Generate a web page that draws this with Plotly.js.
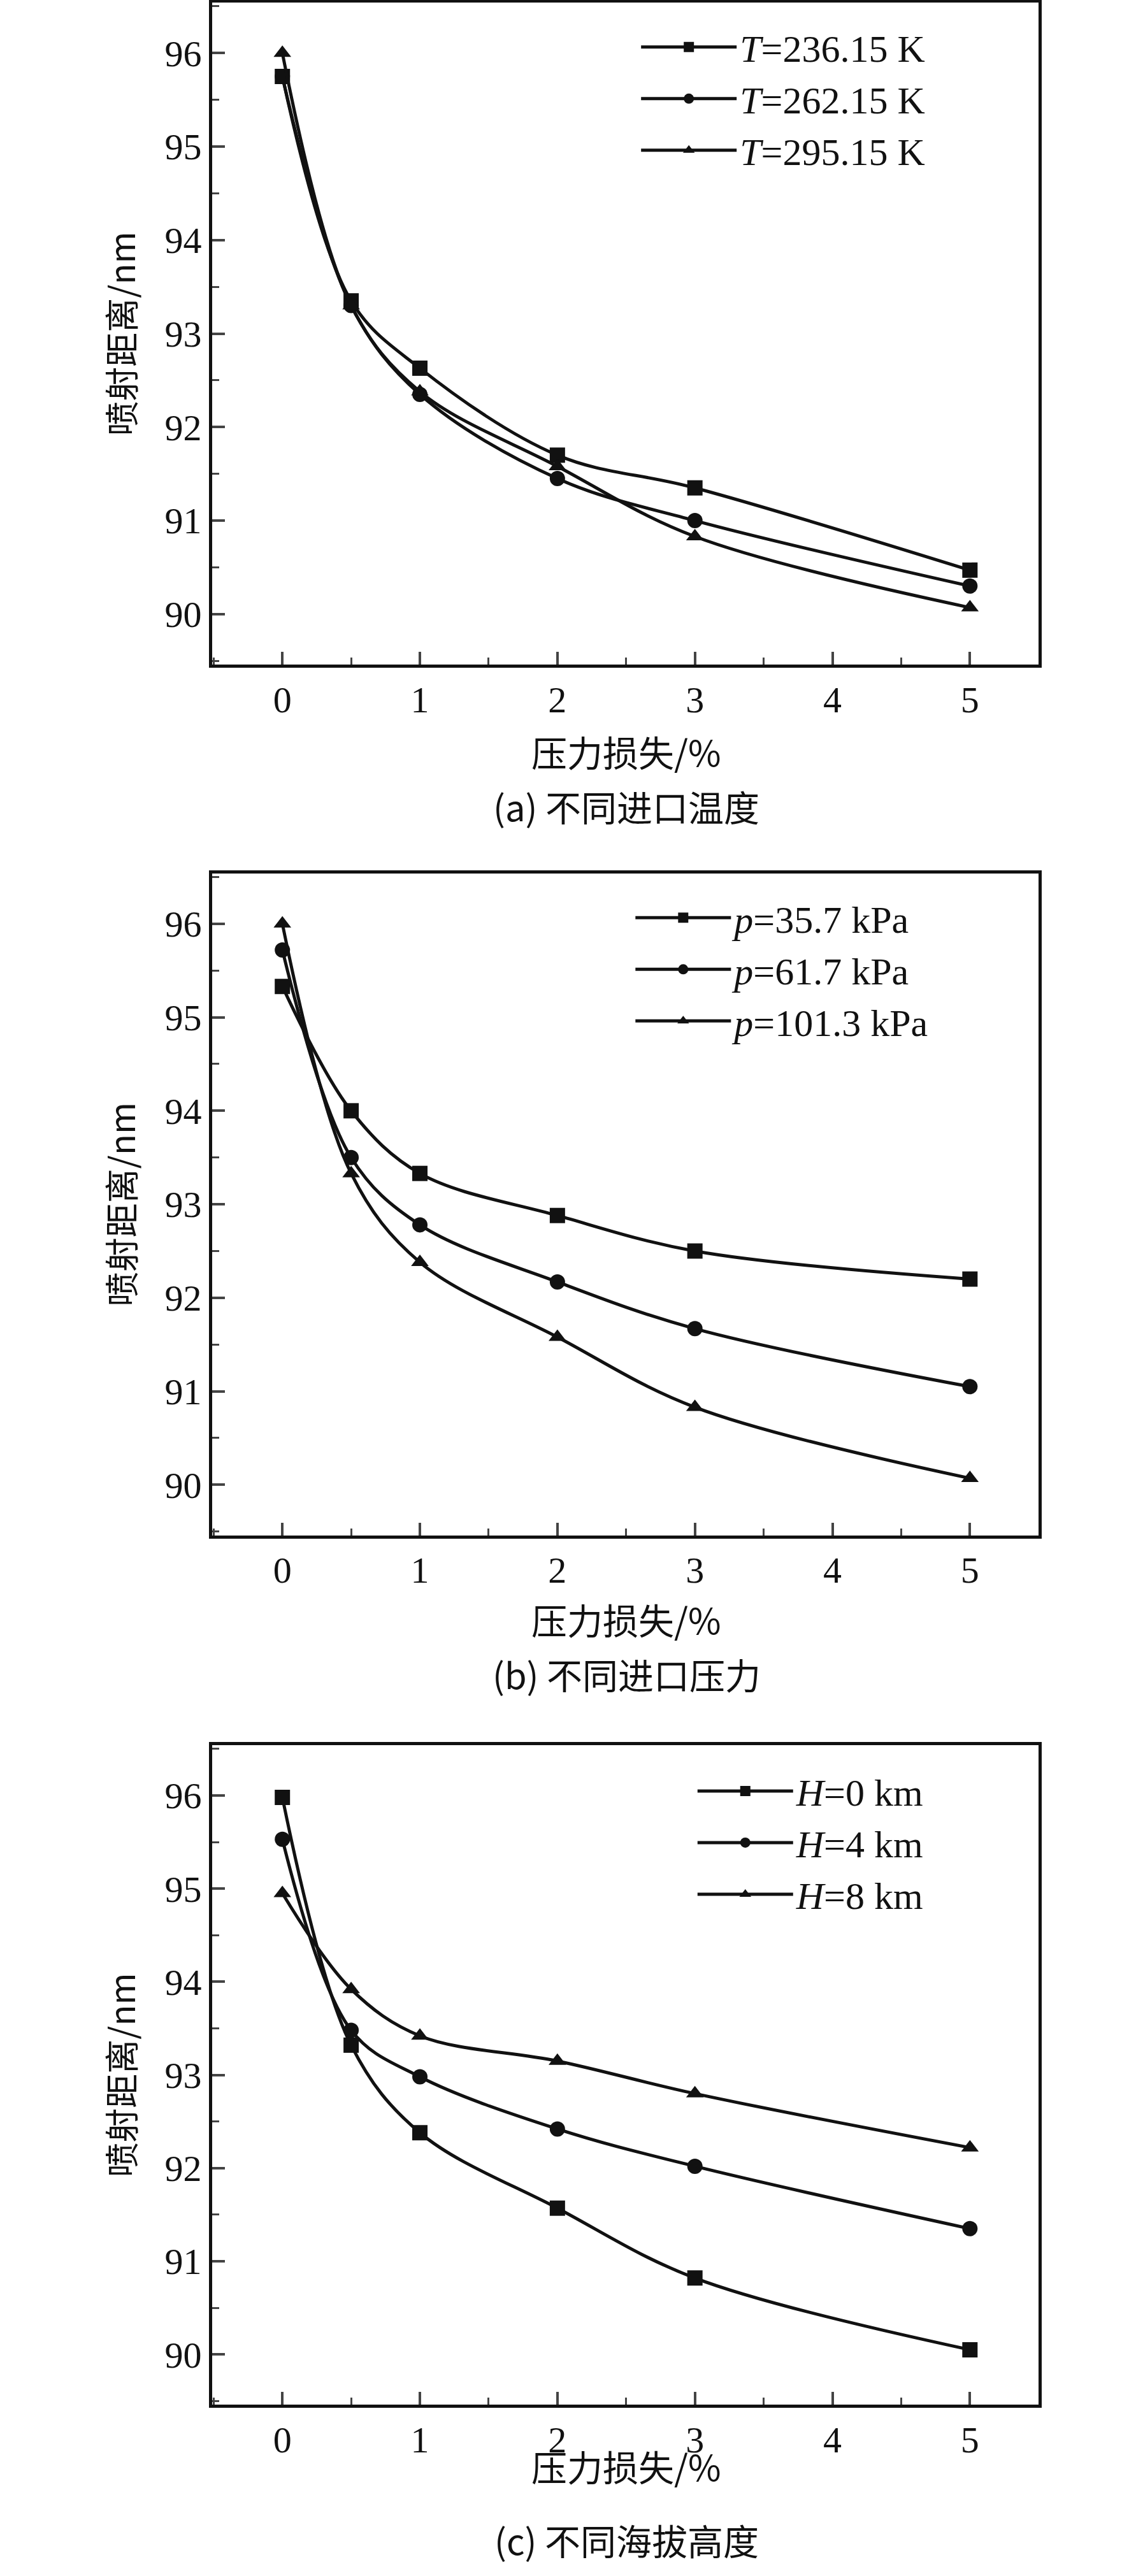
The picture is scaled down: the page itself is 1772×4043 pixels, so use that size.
<!DOCTYPE html>
<html><head><meta charset="utf-8">
<script src="https://cdn.plot.ly/plotly-3.0.1.min.js"></script>
<style>body{margin:0;background:#fff}</style>
</head><body>
<div id="chart" style="width:1772px;height:4043px"></div>
<script>
const lossX = [0, 0.5, 1, 2, 3, 5];

// (a) inlet temperature
const t236 = [95.75, 93.35, 92.63, 91.70, 91.35, 90.47];
const t262 = [95.75, 93.30, 92.35, 91.45, 91.00, 90.30];
const t295 = [96.00, 93.30, 92.38, 91.58, 90.83, 90.07];
// (b) inlet pressure
const p357 = [95.33, 94.00, 93.33, 92.88, 92.50, 92.20];
const p617 = [95.72, 93.50, 92.78, 92.17, 91.67, 91.05];
const p1013 = [96.00, 93.33, 92.38, 91.58, 90.83, 90.07];
// (c) altitude
const h0 = [95.98, 93.32, 92.38, 91.57, 90.82, 90.05];
const h4 = [95.53, 93.48, 92.98, 92.42, 92.02, 91.35];
const h8 = [94.95, 93.92, 93.42, 93.15, 92.80, 92.22];

const serif = 'Liberation Serif, Times New Roman, serif';
const cjk = 'Noto Sans CJK SC, serif';

function tr(y, name, sym, xa, ya, lg) {
  return {x: lossX, y: y, name: name, xaxis: xa, yaxis: ya, legend: lg,
    mode: 'lines+markers', line: {shape: 'spline', color: '#111', width: 5},
    marker: {symbol: sym, size: 24, color: '#111'}};
}

const data = [
  tr(t236, '<i>T</i>=236.15 K', 'square', 'x', 'y', 'legend'),
  tr(t262, '<i>T</i>=262.15 K', 'circle', 'x', 'y', 'legend'),
  tr(t295, '<i>T</i>=295.15 K', 'triangle-up', 'x', 'y', 'legend'),
  tr(p357, '<i>p</i>=35.7 kPa', 'square', 'x2', 'y2', 'legend2'),
  tr(p617, '<i>p</i>=61.7 kPa', 'circle', 'x2', 'y2', 'legend2'),
  tr(p1013, '<i>p</i>=101.3 kPa', 'triangle-up', 'x2', 'y2', 'legend2'),
  tr(h0, '<i>H</i>=0 km', 'square', 'x3', 'y3', 'legend3'),
  tr(h4, '<i>H</i>=4 km', 'circle', 'x3', 'y3', 'legend3'),
  tr(h8, '<i>H</i>=8 km', 'triangle-up', 'x3', 'y3', 'legend3')
];

function xax(anchor) {
  return {domain: [0.188, 0.92], range: [-0.51, 5.5], anchor: anchor,
    tickvals: [0, 1, 2, 3, 4, 5], ticks: 'inside', ticklen: 20, tickwidth: 4,
    minor: {dtick: 0.5, ticks: 'inside', ticklen: 11, tickwidth: 3},
    showline: true, mirror: true, linewidth: 5, linecolor: '#111', showgrid: false, zeroline: false,
    tickfont: {family: serif, size: 58, color: '#111'}};
}
function yax(anchor, dom) {
  return {domain: dom, range: [89.46, 96.54], anchor: anchor,
    tickvals: [90, 91, 92, 93, 94, 95, 96], ticks: 'inside', ticklen: 20, tickwidth: 4,
    minor: {dtick: 0.5, ticks: 'inside', ticklen: 11, tickwidth: 3},
    showline: true, mirror: true, linewidth: 5, linecolor: '#111', showgrid: false, zeroline: false,
    tickfont: {family: serif, size: 58, color: '#111'},
    title: {text: '喷射距离/nm', font: {family: cjk, size: 54, color: '#111'}, standoff: 30}};
}
function leg(y, x) {
  return {x: x, y: y, xanchor: 'left', yanchor: 'top', bgcolor: 'rgba(0,0,0,0)',
    font: {family: serif, size: 60, color: '#111'}, itemwidth: 150, tracegroupgap: 0};
}

const texts = [
  ['压力损失/%', 1179], ['(a) 不同进口温度', 1264],
  ['压力损失/%', 2540], ['(b) 不同进口压力', 2626],
  ['压力损失/%', 3869], ['(c) 不同海拔高度', 3985]
];

const layout = {
  width: 1772, height: 4043, margin: {l: 0, r: 0, t: 0, b: 0},
  paper_bgcolor: '#fff', plot_bgcolor: '#fff', showlegend: true,
  xaxis: xax('y'), yaxis: yax('x', [0.742, 0.999]),
  xaxis2: xax('y2'), yaxis2: yax('x2', [0.404, 0.661]),
  xaxis3: xax('y3'), yaxis3: yax('x3', [0.0665, 0.3225]),
  legend: leg(0.993, 0.565), legend2: leg(0.655, 0.56), legend3: leg(0.316, 0.615),
  annotations: texts.map(a => ({text: a[0], x: 0.555, y: 1 - a[1] / 4043, xref: 'paper', yref: 'paper',
    xanchor: 'center', yanchor: 'middle', showarrow: false,
    font: {family: cjk, size: 56, color: '#111'}}))
};

Plotly.newPlot('chart', data, layout, {displayModeBar: false});
</script>
</body></html>
